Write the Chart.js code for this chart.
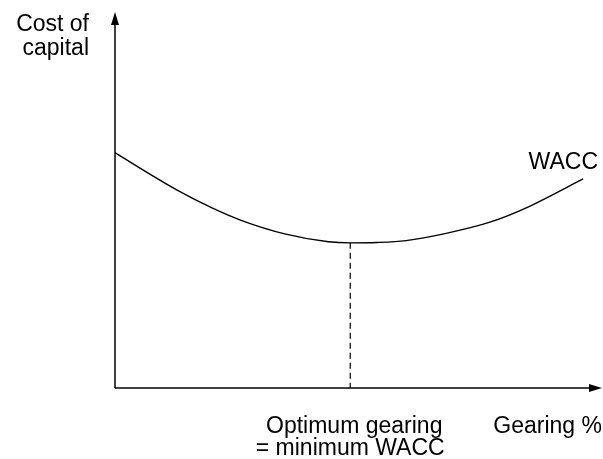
<!DOCTYPE html>
<html>
<head>
<meta charset="utf-8">
<script src="https://cdn.jsdelivr.net/npm/chart.js@4.4.0/dist/chart.umd.min.js"></script>
<style>
  html, body { margin: 0; padding: 0; background: #fff; }
  #wrap { width: 603px; height: 459px; }
</style>
</head>
<body>
<div id="wrap"><canvas id="wacc"></canvas></div>
<script>
// gearing % (0-100 along the axis) and cost of capital (0-100 up the axis)
var gearing = [0, 6, 13, 20, 26, 35, 44, 48.5, 54, 60, 68.5, 77.3, 85.6, 96.5];
var wacc = [62.6, 57.8, 52.5, 47.9, 44.6, 41.0, 38.9, 38.6, 38.7, 39.2, 41.2, 44.1, 48.4, 55.6];
var optimum = 48.5; // gearing at minimum WACC

var fontFam = '"Liberation Sans", Arial, Helvetica, sans-serif';

var curve = [];
for (let i = 0; i < gearing.length; i++) {
    curve.push({ x: gearing[i], y: wacc[i] });
}
var minWacc = Math.min.apply(null, wacc);

// axes with arrow heads + text labels
var decor = {
    id: 'decor',
    afterDraw: function (chart) {
        var ctx = chart.ctx;
        var a = chart.chartArea;
        var xs = chart.scales.x, ys = chart.scales.y;
        ctx.save();
        ctx.strokeStyle = '#000';
        ctx.fillStyle = '#000';
        ctx.lineWidth = 1.5;
        // y axis
        ctx.beginPath();
        ctx.moveTo(a.left, a.bottom);
        ctx.lineTo(a.left, a.top + 8);
        ctx.stroke();
        ctx.beginPath();
        ctx.moveTo(a.left, a.top);
        ctx.lineTo(a.left - 4, a.top + 13);
        ctx.lineTo(a.left + 4, a.top + 13);
        ctx.closePath();
        ctx.fill();
        // x axis
        ctx.beginPath();
        ctx.moveTo(a.left, a.bottom);
        ctx.lineTo(a.right - 6, a.bottom);
        ctx.stroke();
        ctx.beginPath();
        ctx.moveTo(a.right + 2, a.bottom);
        ctx.lineTo(a.right - 11, a.bottom - 4);
        ctx.lineTo(a.right - 11, a.bottom + 4);
        ctx.closePath();
        ctx.fill();

        ctx.font = '23px ' + fontFam;
        ctx.textBaseline = 'alphabetic';
        ctx.textAlign = 'right';
        ctx.fillText('Cost of', a.left - 26, 31);
        ctx.fillText('capital', a.left - 26, 55);
        ctx.fillText('Gearing %', chart.width - 1, 433);

        var ox = xs.getPixelForValue(optimum);
        ctx.textAlign = 'center';
        ctx.fillText('Optimum gearing', ox + 4, 433);
        ctx.fillText('= minimum WACC', ox, 455);

        var last = gearing.length - 1;
        ctx.textAlign = 'right';
        ctx.fillText('WACC', chart.width - 5, ys.getPixelForValue(wacc[last]) - 10);
        ctx.restore();
    }
};

var chart = new Chart(document.getElementById('wacc').getContext('2d'), {
    type: 'line',
    data: {
        datasets: [{
            label: 'WACC',
            data: curve,
            borderColor: '#000',
            borderWidth: 1.4,
            pointRadius: 0,
            cubicInterpolationMode: 'monotone',
            fill: false
        }, {
            label: 'optimum',
            data: [{ x: optimum, y: minWacc }, { x: optimum, y: 0 }],
            borderColor: '#000',
            borderWidth: 1.2,
            borderDash: [6, 4],
            pointRadius: 0,
            fill: false
        }]
    },
    options: {
        responsive: true,
        maintainAspectRatio: false,
        animation: false,
        layout: { padding: { left: 115, right: 3, top: 12, bottom: 71 } },
        scales: {
            x: { type: 'linear', min: 0, max: 100, display: false },
            y: { type: 'linear', min: 0, max: 100, display: false }
        },
        plugins: {
            legend: { display: false },
            tooltip: { enabled: false }
        }
    },
    plugins: [decor]
});
</script>
</body>
</html>
